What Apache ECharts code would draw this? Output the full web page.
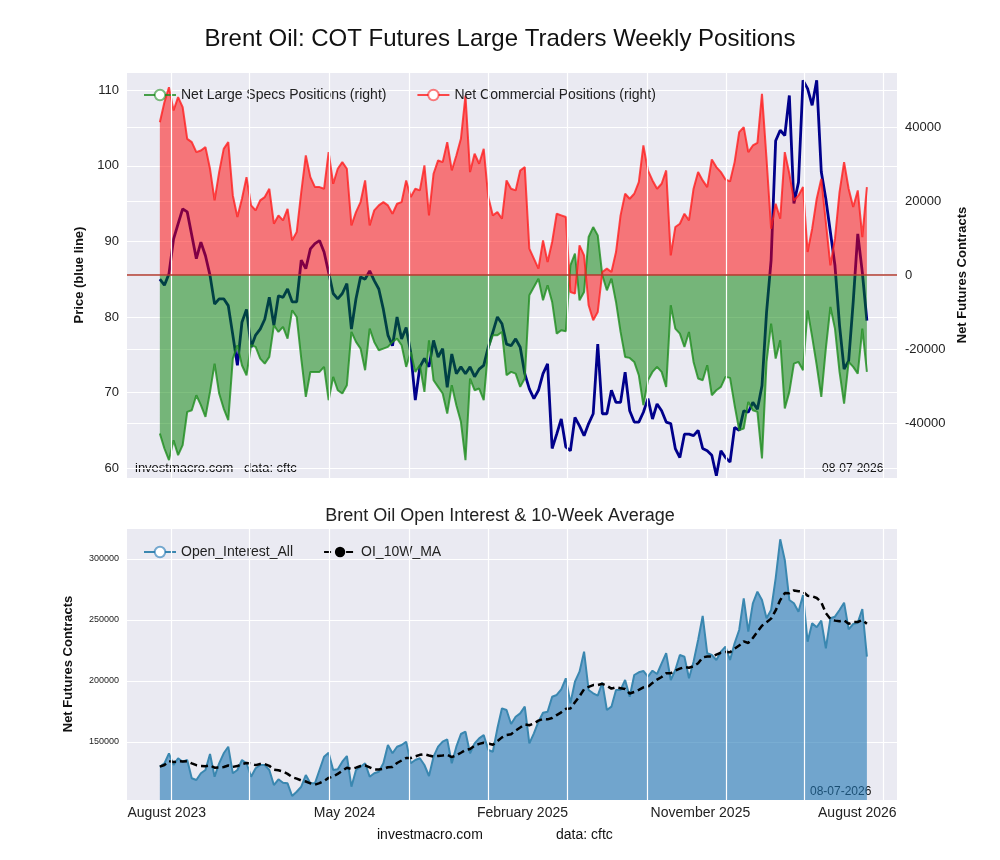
<!DOCTYPE html>
<html lang="en">
<head>
    <meta charset="UTF-8">
    <title>Brent Oil COT</title>
    <script src="https://cdn.jsdelivr.net/npm/echarts@6/dist/echarts.min.js"></script>
    <style>body{margin:0;background:#fff;}</style>
</head>
<body>
    <div id="main" style="width:1000px;height:860px;"></div>
    <script>
        // weekly data, first week ~ mid July 2023, last 08-07-2026
        const price = [
            85.0,84.2,85.7,90.3,92.3,94.3,93.9,90.8,87.7,89.9,88.1,85.5,81.7,82.4,82.4,81.5,77.6,73.6,79.3,81.0,
            76.0,77.6,78.4,79.7,82.6,78.9,82.8,82.6,83.7,82.0,82.0,87.5,86.4,89.0,89.7,90.1,88.6,85.9,83.1,82.4,
            83.1,84.4,78.4,82.4,85.3,85.0,86.1,84.8,83.7,81.0,77.6,76.2,80.0,77.1,78.6,75.3,69.0,73.4,74.5,73.4,
            76.9,74.7,75.8,70.7,75.1,72.5,73.4,72.5,73.4,72.1,73.1,73.6,76.0,78.0,80.0,79.1,76.4,76.2,77.1,
            76.0,72.5,70.5,69.2,70.3,72.5,73.8,62.6,64.5,66.5,62.8,62.3,66.7,65.6,64.3,65.9,67.2,76.4,67.2,67.2,
            70.3,68.7,68.7,72.7,67.6,66.1,66.1,67.4,69.2,66.5,68.5,67.6,66.1,65.9,62.6,61.4,64.5,64.5,64.3,65.0,
            62.6,62.3,61.7,59.0,62.3,61.4,60.8,65.4,65.0,67.6,67.4,68.7,67.8,70.9,80.6,87.5,103.3,104.7,104.0,109.3,
            95.0,97.8,111.3,110.2,108.0,111.3,99.2,95.6,91.2,86.8,78.9,73.1,74.2,82.0,91.0,85.9,79.5
        ];
        const largeSpecs = [
            -42840,-46890,-50040,-44640,-48690,-45990,-36990,-36540,-32490,-35190,-38340,-31590,-23940,-32040,-36090,-39240,-22590,-18990,-24390,-27090,
            -18990,-19440,-22590,-23940,-22140,-13590,-15390,-14040,-17190,-9540,-11340,-22590,-32940,-26190,-26190,-26190,-24840,-33840,-27540,-31140,
            -32040,-29790,-15390,-18090,-19890,-25740,-14490,-18090,-20340,-19890,-19440,-18090,-17190,-18990,-24840,-20790,-26190,-24390,-31590,-17640,
            -28440,-30240,-32040,-37440,-29790,-35190,-39690,-50040,-27990,-31140,-30690,-33840,-19890,-16290,-16290,-15390,-27090,-26190,-26640,
            -30240,-27990,-5490,-3240,-990,-6840,-2790,-7290,-15840,-14940,-15200,2610,5760,-6840,-4590,10260,12960,10710,-90,-4140,
            -990,-7290,-15390,-22140,-22400,-23490,-27090,-35190,-28440,-26190,-24840,-26190,-30240,-8190,-14490,-15840,-19440,-15390,-23490,-27990,
            -28440,-24390,-32490,-31140,-30240,-27540,-27810,-35190,-41940,-41490,-34290,-36540,-36990,-49590,-23490,-13140,-22590,-17640,-36090,-31590,
            -23940,-23490,-25740,-9540,-16740,-24390,-32940,-19890,-8640,-14490,-26190,-34740,-23490,-24840,-26640,-14490,-26190
        ];
        const commercial = [
            41300,46700,50760,44460,48060,45360,36800,35900,33200,33660,34560,28700,20160,27800,34100,35900,21500,15660,20600,26460,
            18800,17460,20160,21060,23300,13860,16100,14760,17900,9360,11600,22400,32300,26460,23760,23760,23300,33200,24660,28700,
            30510,28710,13410,17010,19710,25560,13410,17460,18810,19710,18810,16560,19260,19710,25560,21060,23310,22860,29610,16110,
            27360,30960,30510,35910,28260,32310,36810,48510,27810,32760,30060,34110,21060,16110,17010,15210,25560,23310,22860,
            28260,29160,7110,4410,1710,9360,3510,8910,16560,16110,15660,-4590,-5040,8010,5310,-8190,-12240,-9990,810,1710,
            810,6210,16110,21960,20610,21960,25110,35010,28260,25560,23310,24660,28260,5310,12960,13860,16560,14760,23310,27810,
            25560,23760,31230,29160,27810,25830,25290,30510,38610,39960,33210,35010,35730,48960,31410,12510,19260,15210,33210,27360,
            20160,21510,23760,6210,12510,20610,26010,14310,2610,9810,22410,30510,23310,18360,22860,10260,23760
        ];
        const openInterest = [
            129760,132540,140740,131150,136640,133850,135250,120240,118850,124340,127050,140160,121560,132540,140740,146150,124340,127050,135250,132540,
            121560,128440,131150,131150,127050,114750,119420,116640,116150,105740,109260,113360,122950,116150,116150,127050,137950,141230,127050,127620,
            133850,138520,113360,127050,129760,132540,121560,124340,125660,132540,147540,140740,146150,147540,150250,132540,135250,136640,131150,122130,
            137950,146150,150250,152190,132540,146150,156560,158460,140740,148900,153000,155740,143440,142050,161200,177600,176230,164750,170740,
            173500,178950,148900,157130,166640,174020,174840,187130,188530,193200,202210,181720,199430,207620,224020,192620,189920,187950,198610,176230,
            178950,192620,192620,200820,187130,204920,207130,208200,203530,208450,205740,214510,222710,200820,209020,221310,219920,202210,215820,233610,
            253280,222710,221310,217220,224020,228120,217220,230900,241810,267790,240410,263690,273200,266400,251390,258200,284180,316150,299190,266400,
            263690,256810,270500,232220,247300,244020,249430,226810,251390,252710,258200,264190,242380,246730,247790,259020,219920
        ];
        // x-axis: week index; month gridlines and labels
        const monthGrid = [2.6, 19.7, 37.1, 54.6, 71.9, 89.3, 106.8, 124.1, 141.2, 158.5];
        const tickPos = [1.5, 40.5, 79.5, 118.5, 152.9];
        const tickLabels = ['August 2023', 'May 2024', 'February 2025', 'November 2025', 'August 2026'];

        function pairs(arr) {
            return arr.map(function (v, i) { return [i, v]; });
        }
        // 10-week moving average of open interest
        const oiMA = openInterest.map(function (v, i) {
            const s = openInterest.slice(Math.max(0, i - 9), i + 1);
            return [i, s.reduce(function (a, b) { return a + b; }, 0) / s.length];
        });
        const gridMarks = {
            silent: true,
            symbol: 'none',
            label: {show: false},
            lineStyle: {color: '#fff', width: 1.2, type: 'solid'},
            data: monthGrid.map(function (x) { return {xAxis: x}; })
        };
        const FONT = 'Liberation Sans, Arial, sans-serif';
        function onlyMultiples(step) {
            return function (v) {
                return Math.abs(v / step - Math.round(v / step)) < 1e-6 ? String(v) : '';
            };
        }

        const option = {
            backgroundColor: '#fff',
            animation: false,
            textStyle: {fontFamily: FONT},
            title: [
                {text: 'Brent Oil: COT Futures Large Traders Weekly Positions', left: 'center', top: 22,
                    textStyle: {fontSize: 24, fontWeight: 'normal', color: '#111', fontFamily: FONT}},
                {text: 'Brent Oil Open Interest & 10-Week Average', left: 'center', top: 502,
                    textStyle: {fontSize: 18, fontWeight: 'normal', color: '#222', fontFamily: FONT}}
            ],
            legend: [
                {data: ['Net Large Specs Positions (right)', 'Net Commercial Positions (right)'],
                    left: 138, top: 83, itemWidth: 32, itemHeight: 13, itemGap: 30,
                    textStyle: {fontSize: 14, color: '#222'}},
                {data: ['Open_Interest_All', 'OI_10W_MA'], left: 138, top: 540, itemWidth: 32, itemHeight: 13, itemGap: 30,
                    textStyle: {fontSize: 14, color: '#222'}}
            ],
            grid: [
                {left: 127, right: 103, top: 72, height: 406, show: true, backgroundColor: '#eaeaf2', borderWidth: 0},
                {left: 127, right: 103, top: 528, height: 272, show: true, backgroundColor: '#eaeaf2', borderWidth: 0}
            ],
            xAxis: [
                {type: 'value', gridIndex: 0, min: -7.2, max: 161.6, axisLine: {show: false}, axisTick: {show: false},
                    axisLabel: {show: false}, splitLine: {show: false}},
                {type: 'value', gridIndex: 1, min: -7.2, max: 161.6, axisLine: {show: false}, axisTick: {show: false},
                    splitLine: {show: false},
                    axisLabel: {show: true, customValues: tickPos, fontSize: 14, color: '#222', margin: 6,
                        formatter: function (v) {
                            const k = tickPos.findIndex(function (p) { return Math.abs(p - v) < 0.01; });
                            return k >= 0 ? tickLabels[k] : '';
                        }}}
            ],
            yAxis: [
                {type: 'value', gridIndex: 0, min: 58.7, max: 112.4, splitNumber: 5, position: 'left',
                    name: 'Price (blue line)', nameLocation: 'middle', nameGap: 38,
                    nameTextStyle: {fontWeight: 'bold', fontSize: 13, color: '#111'},
                    axisLine: {show: false}, axisTick: {show: false},
                    axisLabel: {fontSize: 13, color: '#222', formatter: onlyMultiples(10)},
                    splitLine: {lineStyle: {color: '#fff', width: 1.2}}},
                {type: 'value', gridIndex: 0, min: -54865, max: 54865, splitNumber: 5, position: 'right',
                    name: 'Net Futures Contracts', nameLocation: 'middle', nameGap: 58, nameRotate: 90,
                    nameTextStyle: {fontWeight: 'bold', fontSize: 13, color: '#111'},
                    axisLine: {show: false}, axisTick: {show: false},
                    axisLabel: {fontSize: 13, color: '#222', margin: 8, formatter: onlyMultiples(20000)},
                    splitLine: {lineStyle: {color: '#fff', width: 1.2}}},
                {type: 'value', gridIndex: 1, min: 102460, max: 325400, splitNumber: 5,
                    name: 'Net Futures Contracts', nameLocation: 'middle', nameGap: 52,
                    nameTextStyle: {fontWeight: 'bold', fontSize: 13, color: '#111'},
                    axisLine: {show: false}, axisTick: {show: false},
                    axisLabel: {fontSize: 9, color: '#222', formatter: onlyMultiples(50000)},
                    splitLine: {lineStyle: {color: '#fff', width: 1.2}}}
            ],
            series: [
                {name: 'grid-top', type: 'line', xAxisIndex: 0, yAxisIndex: 0, data: [], z: 0, markLine: gridMarks},
                {name: 'grid-bottom', type: 'line', xAxisIndex: 1, yAxisIndex: 2, data: [], z: 0, markLine: gridMarks},
                {name: 'Price', type: 'line', xAxisIndex: 0, yAxisIndex: 0, data: pairs(price), z: 2,
                    showSymbol: false, lineStyle: {color: '#00008b', width: 2.8}},
                {name: 'Net Large Specs Positions (right)', type: 'line', xAxisIndex: 0, yAxisIndex: 1, z: 3,
                    data: pairs(largeSpecs), showSymbol: false, itemStyle: {color: 'rgba(0,128,0,0.5)'},
                    lineStyle: {color: 'rgba(30,140,30,0.8)', width: 2},
                    areaStyle: {color: 'rgba(0,128,0,0.5)', opacity: 1}},
                {name: 'Net Commercial Positions (right)', type: 'line', xAxisIndex: 0, yAxisIndex: 1, z: 3,
                    data: pairs(commercial), showSymbol: false, itemStyle: {color: 'rgba(255,0,0,0.5)'},
                    lineStyle: {color: 'rgba(255,30,30,0.8)', width: 2},
                    areaStyle: {color: 'rgba(255,0,0,0.5)', opacity: 1},
                    markLine: {silent: true, symbol: 'none', label: {show: false},
                        lineStyle: {color: '#b03a2e', width: 1.5, type: 'solid'},
                        data: [{yAxis: 0}]}},
                {name: 'Open_Interest_All', type: 'line', xAxisIndex: 1, yAxisIndex: 2, z: 2,
                    data: pairs(openInterest), showSymbol: false, itemStyle: {color: 'rgba(31,119,180,0.6)'},
                    lineStyle: {color: '#3a87b0', width: 2},
                    areaStyle: {color: 'rgba(31,119,180,0.6)', origin: 'start', opacity: 1}},
                {name: 'OI_10W_MA', type: 'line', xAxisIndex: 1, yAxisIndex: 2, z: 4, data: oiMA,
                    showSymbol: false, symbol: 'none', smooth: false, itemStyle: {color: '#000'},
                    lineStyle: {color: '#000', width: 2.5, type: [7, 4]}}
            ],
            graphic: [
                {type: 'text', left: 135, top: 462, style: {text: 'investmacro.com   data: cftc', fontSize: 13, fill: '#111', fontFamily: FONT}},
                {type: 'text', left: 822, top: 463, style: {text: '08-07-2026', fontSize: 12, fill: '#111', fontFamily: FONT}},
                {type: 'text', left: 810, top: 786, style: {text: '08-07-2026', fontSize: 12, fill: '#111', fontFamily: FONT}},
                {type: 'text', left: 377, top: 828, style: {text: 'investmacro.com', fontSize: 14, fill: '#111', fontFamily: FONT}},
                {type: 'text', left: 556, top: 828, style: {text: 'data: cftc', fontSize: 14, fill: '#111', fontFamily: FONT}}
            ]
        };
        var myChart = echarts.init(document.getElementById('main'));
        myChart.setOption(option);
    </script>
</body>
</html>
